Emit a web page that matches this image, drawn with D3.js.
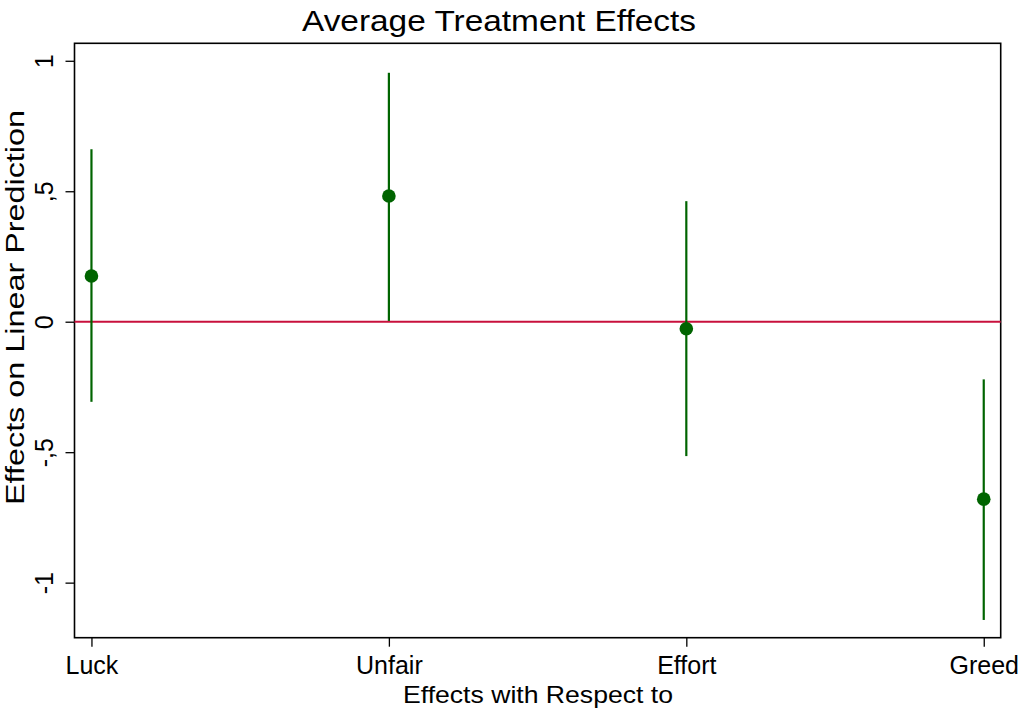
<!DOCTYPE html>
<html lang="en">
<head>
    <meta charset="UTF-8">
    <title>Average Treatment Effects</title>
    <script src="https://cdn.jsdelivr.net/npm/d3@7"></script>
    <style>
        body{ margin:0; background:#fff; }
        svg{ display:block; font-family:"Liberation Sans", Arial, Helvetica, sans-serif; }
    </style>
</head>
<body>
</body>
<script type="text/javascript">

    // values
    let categories = ["Luck", "Unfair", "Effort", "Greed"];
    let estimates  = [0.175, 0.482, -0.027, -0.680];
    let ciLower    = [-0.307, 0.003, -0.515, -1.143];
    let ciUpper    = [0.661, 0.954, 0.462, -0.221];
    let yTicks     = [-1, -0.5, 0, 0.5, 1];

    let width = 1031;
    let height = 709;
    let plot = {left: 74.5, right: 1000.7, top: 43.3, bottom: 637.7};

    let green = "#006400";
    let red = "#c8103c";

    let svg = d3.select("body")
        .append("svg")
        .attr("width", width)
        .attr("height", height);

    let x = d3.scalePoint()
        .domain(categories)
        .range([plot.left, plot.right])
        .padding(0.057);

    let y = d3.scaleLinear()
        .domain([-1.211, 1.067])
        .range([plot.bottom, plot.top]);

    // stata-ish labels: ,5 instead of 0.5, plain hyphen for minus
    let fmt = d => String(d).replace(".", ",").replace(/^0,/, ",").replace(/^-0,/, "-,");

    // x axis
    let xAxis = d3.axisBottom(x).tickSize(9).tickPadding(4);
    let xAxisGroup = svg.append("g")
        .attr("transform", `translate(0,${plot.bottom})`);
    xAxis(xAxisGroup);
    xAxisGroup.select(".domain").remove();
    xAxisGroup.selectAll(".tick line").attr("stroke", "#000").attr("stroke-width", 1.3);
    xAxisGroup.selectAll(".tick text")
        .attr("fill", "#000")
        .attr("font-size", 25)
        .attr("dy", null)
        .attr("y", 36.5);

    // y axis
    let yAxis = d3.axisLeft(y).tickValues(yTicks).tickFormat(fmt).tickSize(9);
    let yAxisGroup = svg.append("g")
        .attr("transform", `translate(${plot.left},0)`);
    yAxis(yAxisGroup);
    yAxisGroup.select(".domain").remove();
    yAxisGroup.selectAll(".tick line").attr("stroke", "#000").attr("stroke-width", 1.3);
    yAxisGroup.selectAll(".tick text")
        .attr("fill", "#000")
        .attr("font-size", 25)
        .attr("x", null)
        .attr("dy", null)
        .attr("text-anchor", "middle")
        .attr("transform", "translate(-21.5,0) rotate(-90)");

    // plot region frame
    svg.append("rect")
        .attr("x", plot.left)
        .attr("y", plot.top)
        .attr("width", plot.right - plot.left)
        .attr("height", plot.bottom - plot.top)
        .attr("fill", "none")
        .attr("stroke", "#000")
        .attr("stroke-width", 1.6);

    // zero line
    svg.append("line")
        .attr("x1", plot.left)
        .attr("x2", plot.right)
        .attr("y1", y(0))
        .attr("y2", y(0))
        .attr("stroke", red)
        .attr("stroke-width", 2);

    let data = categories.map((c, i) => ({cat: c, est: estimates[i], lo: ciLower[i], hi: ciUpper[i]}));

    // confidence intervals
    svg.append("g").selectAll("line")
        .data(data)
        .join("line")
        .attr("x1", d => x(d.cat))
        .attr("x2", d => x(d.cat))
        .attr("y1", d => y(d.lo))
        .attr("y2", d => y(d.hi))
        .attr("stroke", green)
        .attr("stroke-width", 2.2);

    // point estimates
    svg.append("g").selectAll("circle")
        .data(data)
        .join("circle")
        .attr("cx", d => x(d.cat))
        .attr("cy", d => y(d.est))
        .attr("r", 6.8)
        .attr("fill", green);

    // titles
    svg.append("text")
        .attr("x", 499)
        .attr("y", 31)
        .attr("text-anchor", "middle")
        .attr("font-size", 29)
        .attr("textLength", 394)
        .attr("lengthAdjust", "spacingAndGlyphs")
        .text("Average Treatment Effects");

    svg.append("text")
        .attr("x", 538)
        .attr("y", 702.5)
        .attr("text-anchor", "middle")
        .attr("font-size", 24)
        .attr("textLength", 270)
        .attr("lengthAdjust", "spacingAndGlyphs")
        .text("Effects with Respect to");

    svg.append("text")
        .attr("transform", "translate(24,307.5) rotate(-90)")
        .attr("text-anchor", "middle")
        .attr("font-size", 26)
        .attr("textLength", 395)
        .attr("lengthAdjust", "spacingAndGlyphs")
        .text("Effects on Linear Prediction");

</script>
</html>
